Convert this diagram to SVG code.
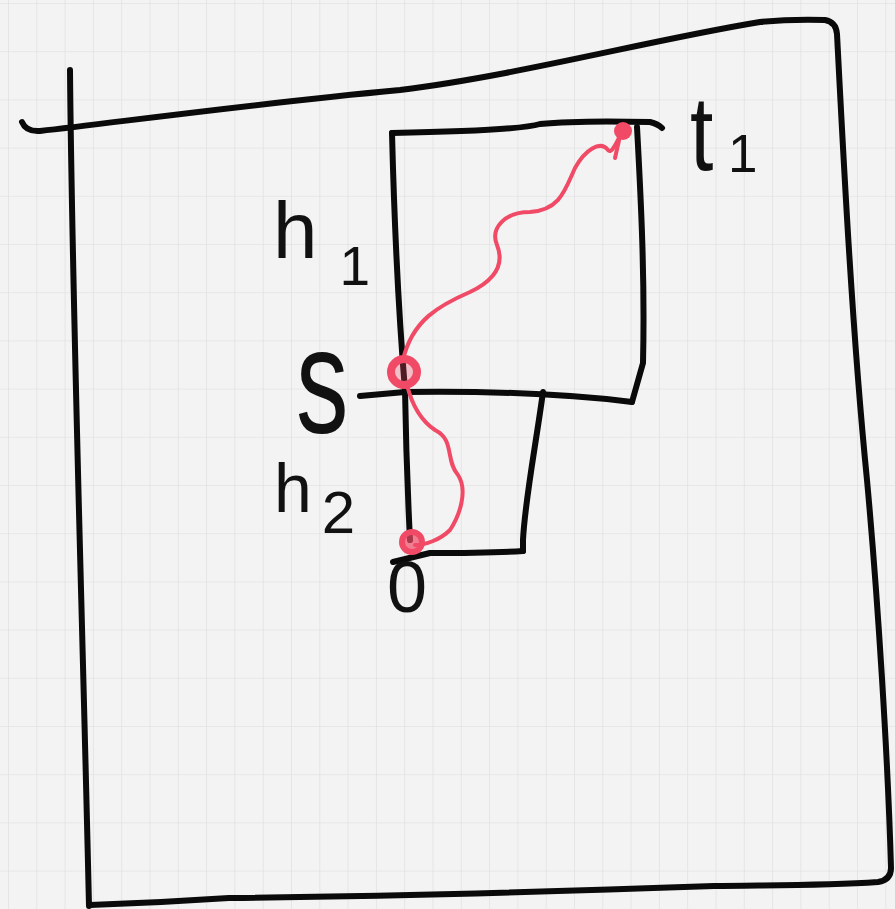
<svg xmlns="http://www.w3.org/2000/svg" width="895" height="909" viewBox="0 0 895 909">
<defs>
<pattern id="grid" x="8" y="3" width="28.3" height="48.2" patternUnits="userSpaceOnUse">
<path d="M 0,0 V 48.2 M 0,0 H 28.3" fill="none" stroke="#dcdcdc" stroke-width="1.2"/>
</pattern>
<style>
.ink{fill:none;stroke:#0a0a0a;stroke-width:6;stroke-linecap:round;stroke-linejoin:round}
.red{fill:none;stroke:#f04a66;stroke-width:4;stroke-linecap:round;stroke-linejoin:round}
.lbl{font-family:"Liberation Sans",Arial,sans-serif;fill:#111}
</style>
</defs>
<rect width="895" height="909" fill="#f3f3f3"/>
<rect width="895" height="909" fill="url(#grid)"/>
<g id="frame">
<path class="ink" d="M 22,122 Q 26,132 40,131 C 120,122 250,104 400,90 C 520,75 650,40 760,22 Q 790,19 825,20 Q 836,22 837,34 C 843,150 852,330 867,480 C 878,600 888,760 891,868 Q 891,880 878,882 C 820,886 760,885 714,886 C 600,890 400,896 229,898 C 170,902 120,904 90,905"/>
<path class="ink" d="M 70,70 C 72,300 82,600 89,906"/>
</g>
<g id="box-h1">
<path class="ink" d="M 392,133 C 395,250 400,330 405,390"/>
<path class="ink" d="M 392,133 C 450,132 520,130 540,124 C 570,121 610,121 650,122 Q 658,124 662,128"/>
<path class="ink" d="M 637,127 C 641,200 645,280 643,363 L 632,402"/>
<path class="ink" d="M 632,402 C 560,393 480,391 405,392 L 360,396"/>
</g>
<g id="box-h2">
<path class="ink" d="M 405,390 C 406,450 408,500 410,540"/>
<path class="ink" d="M 543,392 C 535,450 525,500 523,540 L 523,551"/>
<path class="ink" d="M 523,551 C 490,553 455,553 430,553 L 393,562"/>
</g>
<g id="connectors">
<path class="red" d="M 403,360 C 412,320 440,305 470,292 C 495,280 505,265 497,245 C 490,228 505,212 530,212 C 560,210 565,190 575,168 C 585,150 600,140 608,150 C 612,155 617,140 622,133"/>
<path class="red" d="M 620,136 L 615,158"/>
<path class="red" d="M 407,385 C 412,405 420,420 435,430 C 455,440 445,460 458,475 C 468,490 460,515 450,530 C 440,540 425,545 415,545"/>
</g>
<g id="node-t1-dot"><circle cx="623" cy="131" r="9" fill="#f04a66"/></g>
<g id="node-s-dot"><circle cx="404" cy="372" r="13" fill="#f04a66" fill-opacity="0.3" stroke="#f04a66" stroke-width="8"/></g>
<g id="node-0-dot"><circle cx="412" cy="542" r="10" fill="#f04a66" fill-opacity="0.7" stroke="#f04a66" stroke-width="6"/></g>
<g id="labels">
<text class="lbl" x="273" y="258" font-size="80">h<tspan dx="22" dy="27" font-size="55">1</tspan></text>
<text class="lbl" transform="translate(296,433) scale(0.7,1)" font-size="150">s</text>
<text class="lbl" x="274" y="512" font-size="68">h<tspan dx="10" dy="21" font-size="60">2</tspan></text>
<text class="lbl" x="387" y="612" font-size="72">0</text>
<text class="lbl" transform="translate(690,170) scale(0.8,1)" font-size="105">t</text>
<text class="lbl" x="728" y="172" font-size="53">1</text>
</g>
</svg>
